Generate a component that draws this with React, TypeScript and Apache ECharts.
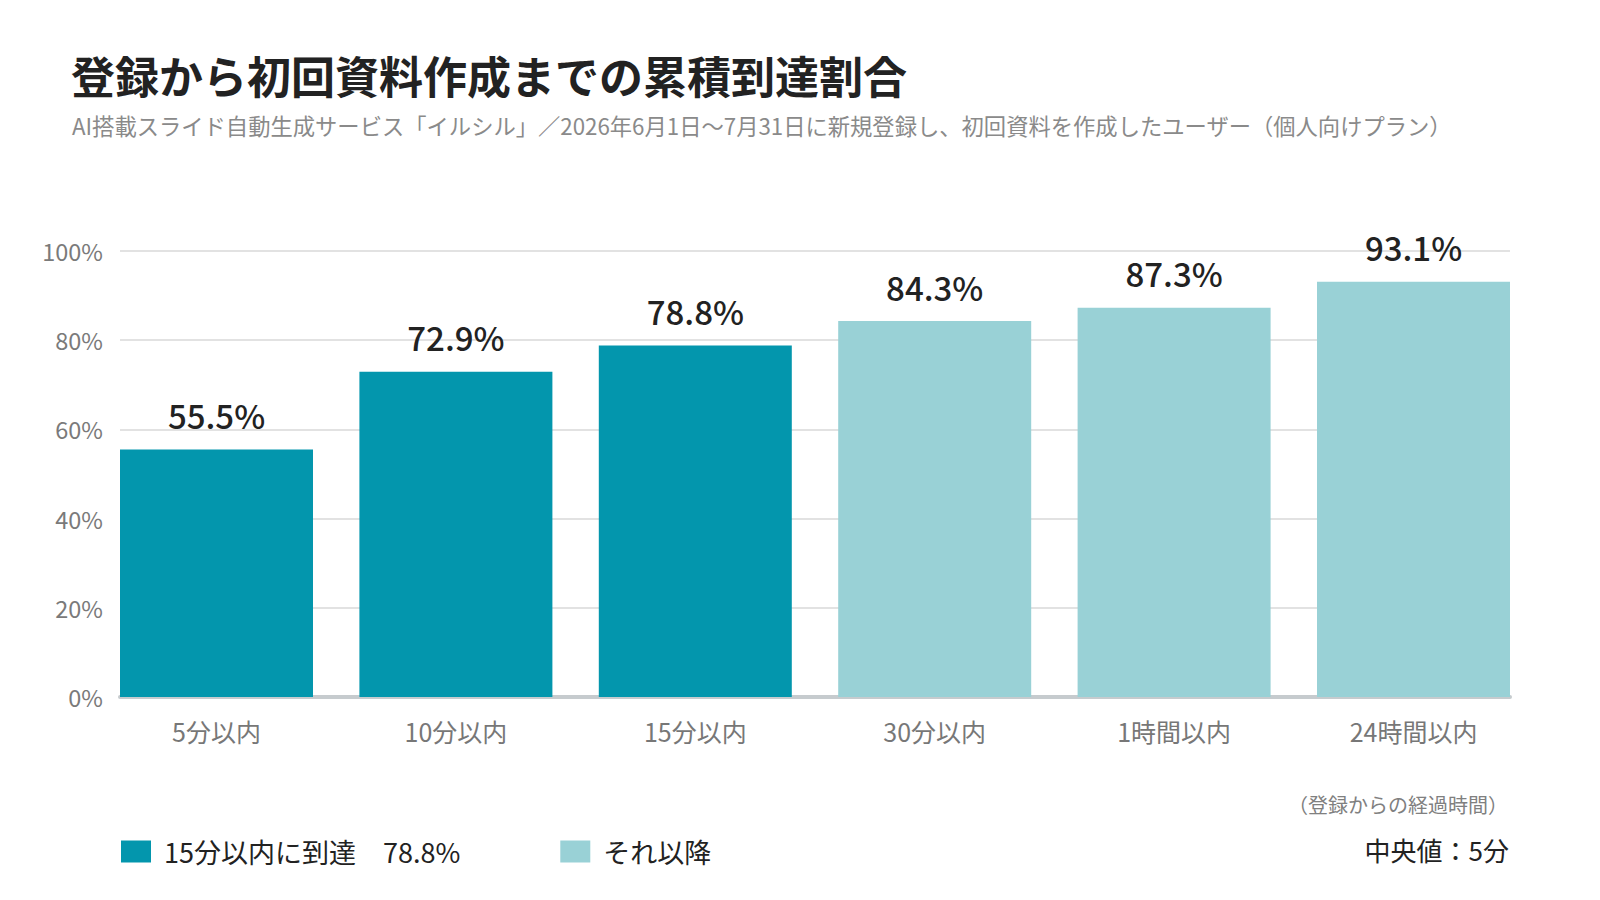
import React, { useEffect, useRef } from "react";
import * as echarts from "echarts";

const categories = ["5分以内", "10分以内", "15分以内", "30分以内", "1時間以内", "24時間以内"];
const values = [55.5, 72.9, 78.8, 84.3, 87.3, 93.1];
const earlyCount = 3;
const earlyName = "15分以内に到達　78.8%";
const lateName = "それ以降";
const yTicks = [0, 20, 40, 60, 80, 100];
const titleText = "登録から初回資料作成までの累積到達割合";
const subtitleText =
  "AI搭載スライド自動生成サービス「イルシル」／2026年6月1日～7月31日に新規登録し、初回資料を作成したユーザー（個人向けプラン）";
const axisNote = "（登録からの経過時間）";
const medianText = "中央値：5分";

const FONT = '"Noto Sans CJK JP", "Noto Sans", sans-serif';
const DARK = "#0396ad";
const LIGHT = "#99d1d6";

export default function App() {
  const ref = useRef<HTMLDivElement>(null);
  useEffect(() => {
    if (!ref.current) return;
    const chart = echarts.init(ref.current, undefined, { renderer: "svg" });
    const early = values.map((v, i) => (i < earlyCount ? v : "-"));
    const late = values.map((v, i) => (i >= earlyCount ? v : "-"));
    const labelCfg = {
      show: true,
      position: "top" as const,
      distance: 18,
      fontSize: 33,
      fontWeight: 500,
      color: "#222",
      fontFamily: FONT,
      formatter: (p: any) => `${p.value}%`,
    };
    chart.setOption({
      animation: false,
      backgroundColor: "#ffffff",
      textStyle: { fontFamily: FONT },
      title: [
        {
          text: titleText,
          left: 71,
          top: 53,
          padding: 0,
          textStyle: { fontSize: 44, fontWeight: "bold", color: "#222", fontFamily: FONT },
        },
        {
          text: subtitleText,
          left: 72,
          top: 114,
          padding: 0,
          textStyle: { fontSize: 22.3, fontWeight: "normal", color: "#8a8a8a", fontFamily: FONT },
        },
        {
          text: axisNote,
          right: 92,
          top: 794,
          padding: 0,
          textStyle: { fontSize: 20, fontWeight: "normal", color: "#808080", fontFamily: FONT },
        },
        {
          text: medianText,
          right: 91,
          top: 836,
          padding: 0,
          textStyle: { fontSize: 26, fontWeight: "normal", color: "#222", fontFamily: FONT },
        },
      ],
      legend: {
        left: 121,
        top: 838,
        padding: 0,
        itemWidth: 30,
        itemHeight: 22,
        itemGap: 100,
        icon: "rect",
        data: [earlyName, lateName],
        textStyle: { fontSize: 27, color: "#222", fontFamily: FONT, padding: [0, 0, 0, 8] },
      },
      grid: [
        { left: 96.8, right: 66.8, top: 251, bottom: 203 },
        { left: 120, right: 90, top: 251, bottom: 203 },
      ],
      xAxis: [
        {
          type: "category",
          gridIndex: 0,
          data: categories,
          axisLine: { show: false },
          axisTick: { show: false },
          axisLabel: { fontSize: 25, color: "#777", margin: 21, fontFamily: FONT },
        },
        {
          type: "category",
          gridIndex: 1,
          data: categories,
          offset: 2,
          axisLine: { show: true, lineStyle: { color: "#c6cbce", width: 4 } },
          axisTick: { show: false },
          axisLabel: { show: false },
        },
      ],
      yAxis: [
        {
          type: "value",
          gridIndex: 0,
          min: 0,
          max: 100,
          interval: 20,
          show: false,
        },
        {
          type: "value",
          gridIndex: 1,
          min: yTicks[0],
          max: yTicks[yTicks.length - 1],
          interval: 20,
          axisLine: { show: false },
          axisTick: { show: false },
          axisLabel: { fontSize: 23.5, color: "#7a7a7a", margin: 17, formatter: "{value}%", fontFamily: FONT },
          splitLine: { lineStyle: { color: "#e2e2e2", width: 2 } },
        },
      ],
      series: [
        {
          name: earlyName,
          type: "bar",
          xAxisIndex: 0,
          yAxisIndex: 0,
          data: early,
          barWidth: 193,
          barGap: "-100%",
          itemStyle: { color: DARK },
          label: labelCfg,
          z: 3,
        },
        {
          name: lateName,
          type: "bar",
          xAxisIndex: 0,
          yAxisIndex: 0,
          data: late,
          barWidth: 193,
          barGap: "-100%",
          itemStyle: { color: LIGHT },
          label: labelCfg,
          z: 3,
        },
      ],
    });
    return () => chart.dispose();
  }, []);
  return (
    <div
      ref={ref}
      style={{ position: "fixed", left: 0, top: 0, width: 1600, height: 900, background: "#fff" }}
    />
  );
}
